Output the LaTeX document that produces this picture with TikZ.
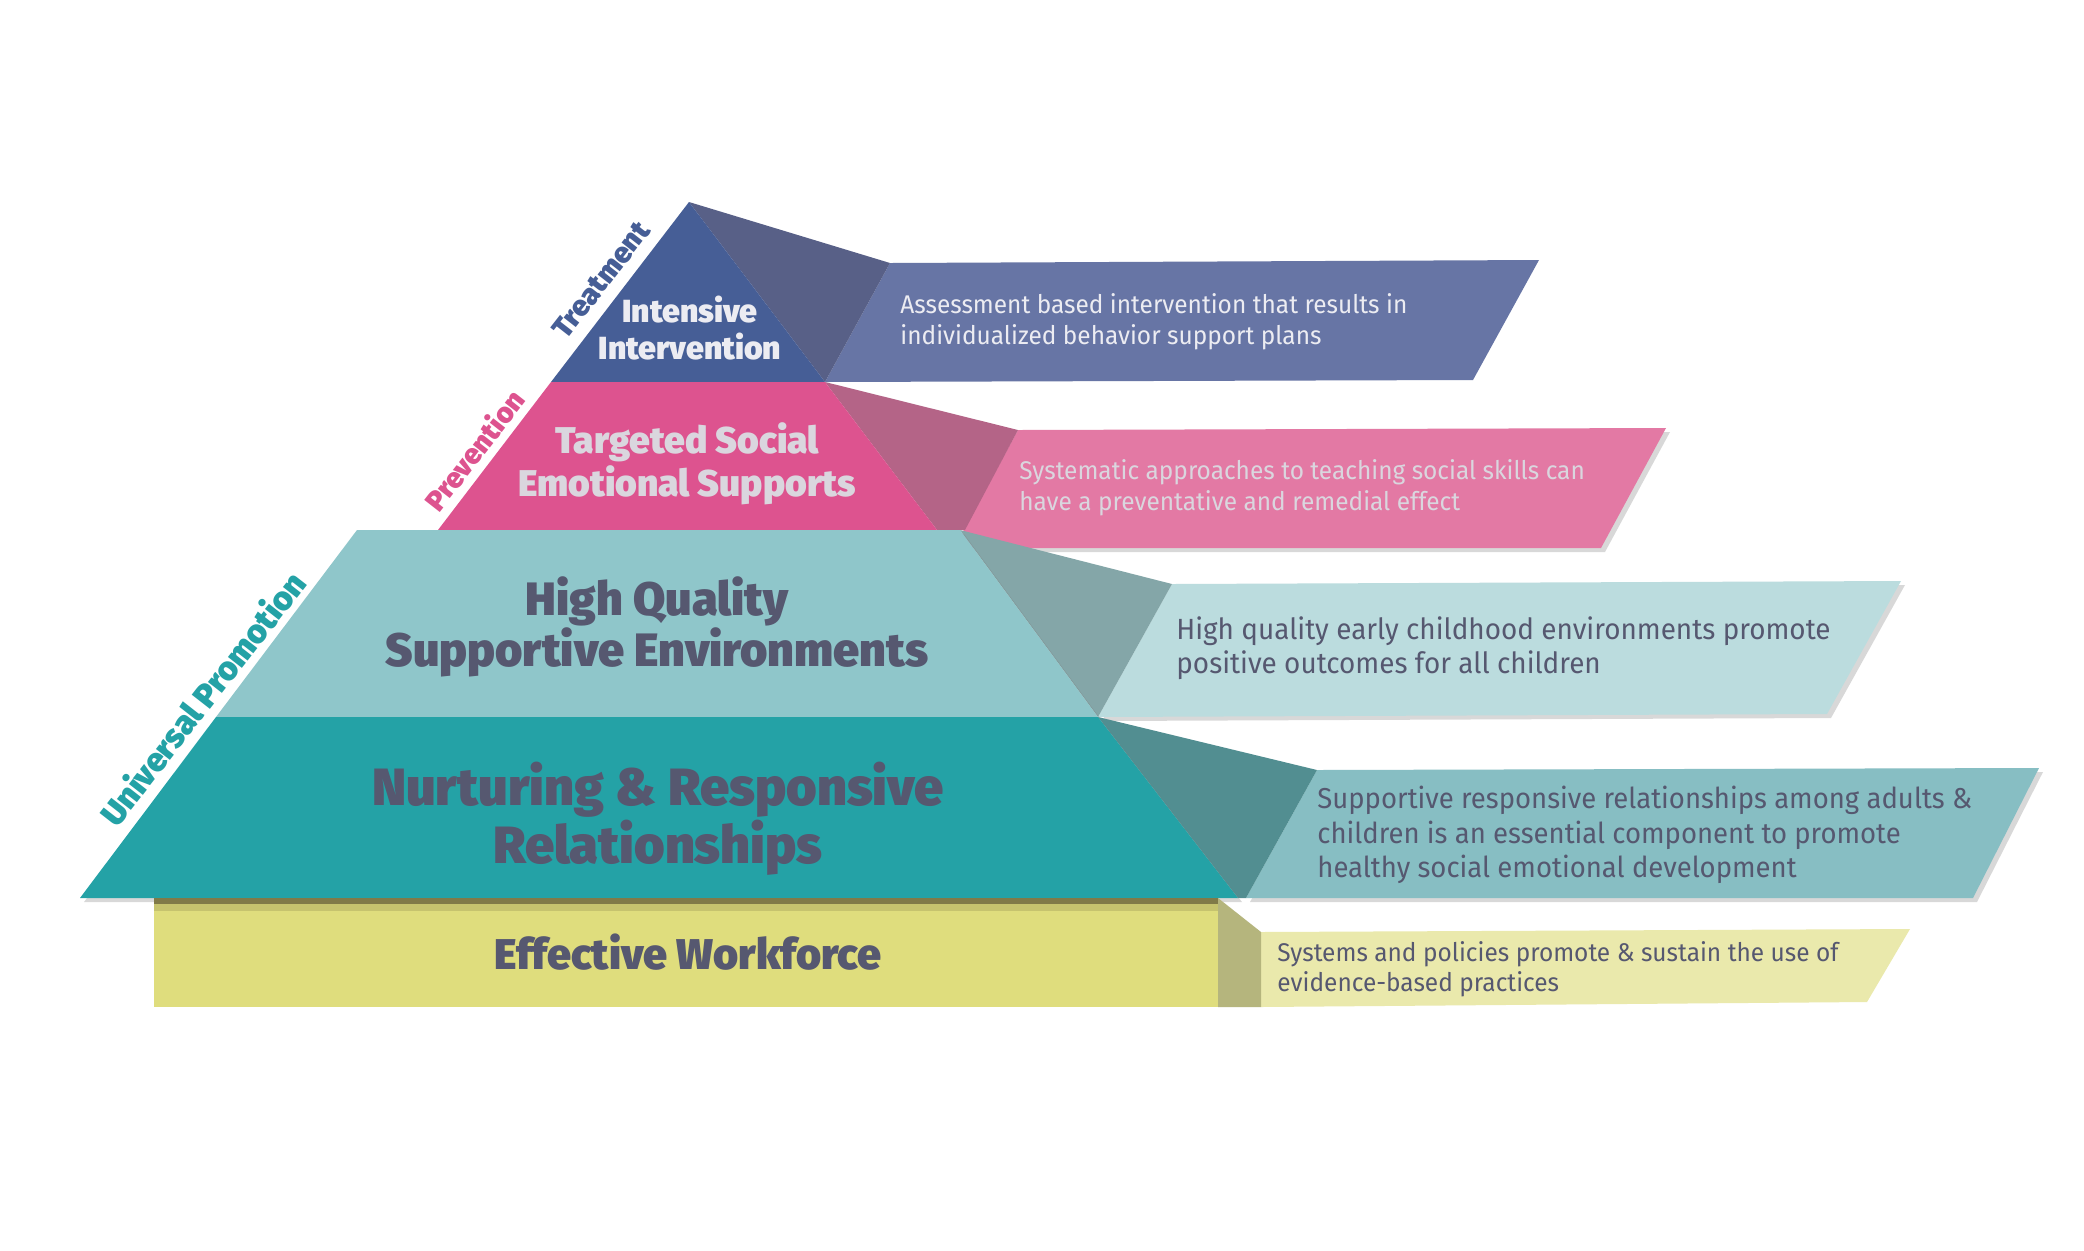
\documentclass[tikz,border=0pt]{standalone}
\usepackage{fontspec}
\setmainfont{Fira Sans}
\newfontfamily\titlefont{Fira Sans Black}
\newfontfamily\descfont{Fira Sans}[FakeStretch=0.955]
\usetikzlibrary{shadows}
\definecolor{iiblue}{RGB}{70,94,150}
\definecolor{iilink}{RGB}{88,96,135}
\definecolor{iibox}{RGB}{103,117,165}
\definecolor{tspink}{RGB}{221,83,143}
\definecolor{tslink}{RGB}{180,100,135}
\definecolor{tsbox}{RGB}{227,121,164}
\definecolor{hqteal}{RGB}{143,198,202}
\definecolor{hqlink}{RGB}{132,166,168}
\definecolor{hqbox}{RGB}{187,220,222}
\definecolor{nrteal}{RGB}{36,162,166}
\definecolor{nrlink}{RGB}{82,142,145}
\definecolor{nrbox}{RGB}{135,190,195}
\definecolor{ewyel}{RGB}{223,221,125}
\definecolor{ewlink}{RGB}{181,181,125}
\definecolor{ewbox}{RGB}{234,233,172}
\definecolor{ewdark}{RGB}{128,122,72}
\definecolor{ewmid}{RGB}{198,195,110}
\definecolor{txtdark}{RGB}{86,88,112}
\definecolor{txtlight}{RGB}{236,236,242}
\definecolor{txtgrey}{RGB}{218,214,222}

\begin{document}
\begin{tikzpicture}[x=0.5pt,y=-0.5pt]
  \tikzstyle{title}=[font=\titlefont,align=center,inner sep=0pt]
  \tikzstyle{desc}=[font=\descfont,align=left,anchor=west,inner sep=0pt]
  \tikzstyle{side}=[font=\titlefont,rotate=52,inner sep=0pt]
  \tikzstyle{shade}=[drop shadow={shadow xshift=2pt,shadow yshift=-2pt,opacity=.3}]
  \useasboundingbox[fill=white] (0,0) rectangle (2084,1250);

  % corners of the pyramid
  \coordinate (A)  at (689,202);
  \coordinate (B1) at (551,382);
  \coordinate (B2) at (825,382);
  \coordinate (P1) at (438,530);
  \coordinate (P2) at (937,530);
  \coordinate (H1) at (357,530);
  \coordinate (H2) at (960,530);
  \coordinate (N1) at (216,717);
  \coordinate (N2) at (1098,717);
  \coordinate (E1) at (80,898);
  \coordinate (E2) at (1238,898);

  % top tier
  \fill[iibox]  (890,263) -- (1539,260) -- (1473,380) -- (B2) -- cycle;
  \fill[iilink] (A) -- (890,263) -- (B2) -- cycle;
  \fill[iiblue] (A) -- (B2) -- (B1) -- cycle;

  % second tier
  \fill[tsbox,shade]  (1018,430) -- (1666,428) -- (1601,548) -- (954,548) -- cycle;
  \fill[tslink] (B2) -- (1018,430) -- (965,530) -- (P2) -- cycle;
  \fill[tspink] (B1) -- (B2) -- (P2) -- (P1) -- cycle;

  % third tier
  \fill[hqbox,shade]  (1172,584) -- (1901,581) -- (1827,714) -- (N2) -- cycle;
  \fill[hqlink] (H2) -- (1172,584) -- (N2) -- cycle;
  \fill[hqteal,shade] (H1) -- (H2) -- (N2) -- (N1) -- cycle;

  % fourth tier
  \fill[nrbox,shade]  (1317,770) -- (2039,768) -- (1973,898) -- (1246,898) -- cycle;
  \fill[nrlink] (N2) -- (1317,770) -- (1246,898) -- (E2) -- cycle;
  \fill[nrteal,shade] (N1) -- (N2) -- (E2) -- (E1) -- cycle;

  % base
  \fill[ewbox]  (1261,932) -- (1910,929) -- (1867,1002) -- (1261,1007) -- cycle;
  \fill[ewlink] (1218,898) -- (1261,932) -- (1261,1007) -- (1218,1007) -- cycle;
  \fill[ewyel]  (154,898) rectangle (1218,1007);
  \fill[ewmid]  (154,898) rectangle (1218,911);
  \fill[ewdark] (154,898) rectangle (1218,904);

  % tier titles
  \node[title,text=txtlight,font=\titlefont\fontsize{16}{18.3}\selectfont] (ii) at (690,328) {Intensive\\Intervention};
  \node[title,text=txtgrey,font=\titlefont\fontsize{18.6}{21.7}\selectfont] (ts) at (687,464) {Targeted Social\\Emotional Supports};
  \node[title,text=txtdark,font=\titlefont\fontsize{23.4}{25.8}\selectfont] (hq) at (657,627) {High Quality\\Supportive Environments};
  \node[title,text=txtdark,font=\titlefont\fontsize{26.2}{29.2}\selectfont] (nr) at (658,819) {Nurturing \& Responsive\\Relationships};
  \node[title,text=txtdark,font=\titlefont\fontsize{21.5}{24}\selectfont] (ew) at (688,952) {Effective Workforce};

  % descriptions
  \node[desc,text=txtlight,font=\descfont\fontsize{12.8}{15.4}\selectfont] (dii) at (900,322)
    {Assessment based intervention that results in\\individualized behavior support plans};
  \node[desc,text=txtgrey,font=\descfont\fontsize{12.8}{15.4}\selectfont] (dts) at (1019,488)
    {Systematic approaches to teaching social skills can\\have a preventative and remedial effect};
  \node[desc,text=txtdark,font=\descfont\fontsize{14.6}{17}\selectfont] (dhq) at (1176,648)
    {High quality early childhood environments promote\\positive outcomes for all children};
  \node[desc,text=txtdark,font=\descfont\fontsize{14.4}{17.2}\selectfont] (dnr) at (1317,835)
    {Supportive responsive relationships among adults \&\\children is an essential component to promote\\healthy social emotional development};
  \node[desc,text=txtdark,font=\descfont\fontsize{12.8}{15}\selectfont] (dew) at (1277,969)
    {Systems and policies promote \& sustain the use of\\evidence-based practices};

  % side labels
  \node[side,text=iiblue,font=\titlefont\fontsize{14.5}{16}\selectfont] (tr) at (601,280) {Treatment};
  \node[side,text=tspink,font=\titlefont\fontsize{14.2}{16}\selectfont] (pv) at (474,450) {Prevention};
  \node[side,text=nrteal,font=\titlefont\fontsize{16.6}{18}\selectfont] (up) at (202,698) {Universal Promotion};
\end{tikzpicture}
\end{document}
